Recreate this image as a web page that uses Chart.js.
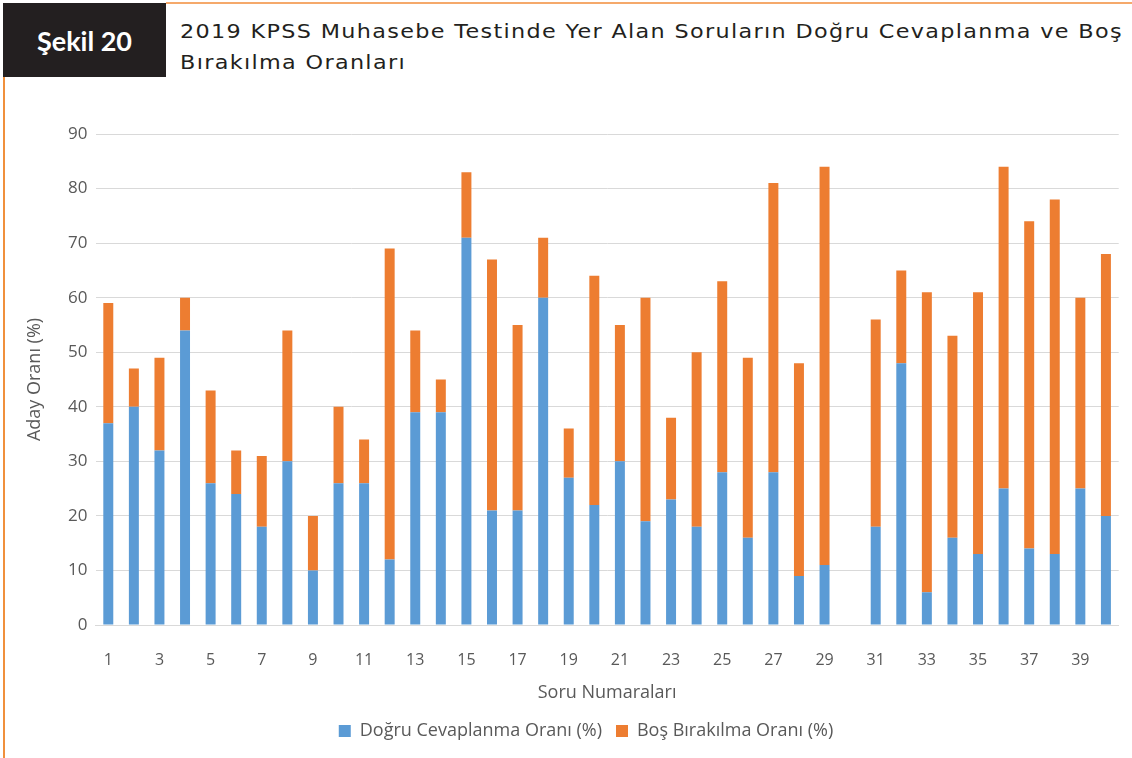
<!DOCTYPE html>
<html>
<head>
<meta charset="utf-8">
<script src="https://cdn.jsdelivr.net/npm/chart.js@4.4.1/dist/chart.umd.min.js"></script>
<style>
  html, body { margin: 0; padding: 0; background: #fff; }
  body { width: 1132px; height: 758px; position: relative; overflow: hidden; }
  .badge {
    position: absolute; left: 3px; top: 3px; width: 163px; height: 74px;
    background: #231f20; color: #fff;
    font: 700 27px Lato, sans-serif;
    display: flex; align-items: center; justify-content: center;
  }
  .topline { position: absolute; left: 166px; top: 2px; right: 0; height: 2px; background: #f5a96b; }
  .leftline { position: absolute; left: 3px; top: 77px; width: 2px; bottom: 0; background: #f0903c; }
  .title {
    position: absolute; left: 180px; top: 16px;
    font: 20px "DejaVu Sans", sans-serif; line-height: 31px; color: #231f20;
    letter-spacing: 1.2px;
    white-space: nowrap;
    transform-origin: 0 0;
    transform: scaleX(1.115);
  }
  .chart-box { position: absolute; left: 0; top: 0; width: 1132px; height: 758px; }
</style>
</head>
<body>
<div class="topline"></div>
<div class="leftline"></div>
<div class="badge">Şekil 20</div>
<div class="title">2019 KPSS Muhasebe Testinde Yer Alan Soruların Doğru Cevaplanma ve Boş<br>Bırakılma Oranları</div>
<div class="chart-box"><canvas id="barChart"></canvas></div>
<script>
// soru numaraları 1-40
var questions = ['1', '2', '3', '4', '5', '6', '7', '8', '9', '10',
	'11', '12', '13', '14', '15', '16', '17', '18', '19', '20',
	'21', '22', '23', '24', '25', '26', '27', '28', '29', '30',
	'31', '32', '33', '34', '35', '36', '37', '38', '39', '40'];

var dogruOrani = [37, 40, 32, 54, 26, 24, 18, 30, 10, 26,
	26, 12, 39, 39, 71, 21, 21, 60, 27, 22,
	30, 19, 23, 18, 28, 16, 28, 9, 11, null,
	18, 48, 6, 16, 13, 25, 14, 13, 25, 20];

var bosOrani = [22, 7, 17, 6, 17, 8, 13, 24, 10, 14,
	8, 57, 15, 6, 12, 46, 34, 11, 9, 42,
	25, 41, 15, 32, 35, 33, 53, 39, 73, null,
	38, 17, 55, 37, 48, 59, 60, 65, 35, 48];

var seriesNames = ['Doğru Cevaplanma Oranı (%)', 'Boş Bırakılma Oranı (%)'];
var seriesColors = ['#5b9bd5', '#ed7d31'];

var textColor = '#595959';
var chartFont = 'Open Sans';

// legend sits a bit right of the canvas centre in the original
var legendShift = {
	id: 'legendShift',
	afterLayout: function (chart) {
		chart.legend.left += 18;
		chart.legend.right += 18;
	},
};

var ctx = document.getElementById('barChart');
var myBarChart = new Chart(ctx, {
	type: 'bar',
	data: {
		labels: questions,
		datasets: [
			{
				label: seriesNames[0],
				data: dogruOrani,
				backgroundColor: seriesColors[0],
				barPercentage: 0.39,
				categoryPercentage: 1,
			},
			{
				label: seriesNames[1],
				data: bosOrani,
				backgroundColor: seriesColors[1],
				barPercentage: 0.39,
				categoryPercentage: 1,
			},
		],
	},
	plugins: [legendShift],
	options: {
		responsive: true,
		maintainAspectRatio: false,
		animation: false,
		layout: {
			padding: { top: 134, left: 10, right: 6, bottom: 8 },
		},
		plugins: {
			legend: {
				position: 'bottom',
				labels: {
					boxWidth: 12,
					boxHeight: 12,
					padding: 14,
					color: textColor,
					font: { family: chartFont, size: 18 },
				},
			},
			tooltip: { enabled: false },
		},
		scales: {
			x: {
				stacked: true,
				grid: { display: false, drawTicks: false },
				border: { color: '#d9d9d9', width: 1 },
				ticks: {
					autoSkip: false,
					maxRotation: 0,
					padding: 26,
					color: textColor,
					font: { family: chartFont, size: 16 },
					callback: function (value, index) {
						return index % 2 === 0 ? this.getLabelForValue(value) : '';
					},
				},
				title: {
					display: true,
					text: 'Soru Numaraları',
					color: textColor,
					font: { family: chartFont, size: 18 },
					padding: { top: 10, bottom: 4 },
				},
				afterFit: function (scale) {
					scale.height = 83;
				},
			},
			y: {
				stacked: true,
				min: 0,
				max: 90,
				grid: { color: '#d9d9d9', drawTicks: false },
				border: { display: false },
				ticks: {
					stepSize: 10,
					padding: 8,
					color: textColor,
					font: { family: chartFont, size: 17 },
				},
				title: {
					display: true,
					text: 'Aday Oranı (%)',
					color: textColor,
					font: { family: chartFont, size: 18 },
					padding: { top: 14, bottom: 0 },
				},
				afterFit: function (scale) {
					scale.width = 85.5;
				},
			},
		},
	},
});
</script>
</body>
</html>
